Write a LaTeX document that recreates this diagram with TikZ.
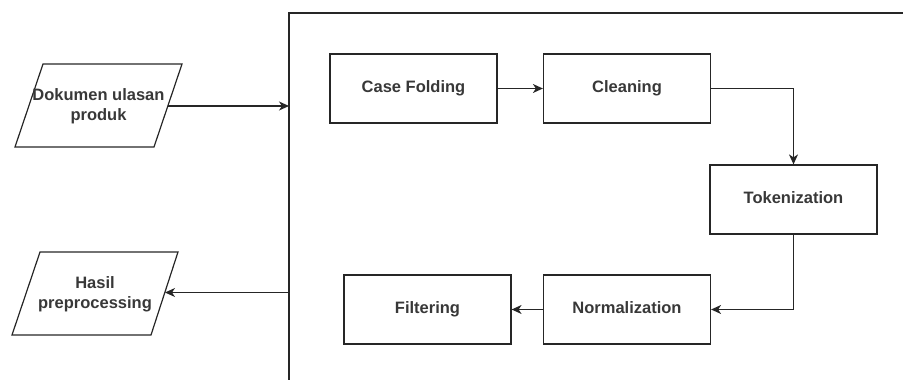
\documentclass[tikz,border=0pt]{standalone}
\usepackage{fontspec}
\setmainfont{Liberation Sans}
\usetikzlibrary{arrows.meta}
\begin{document}
\begin{tikzpicture}[x=1pt,y=-1pt,
  line/.style={draw=black!85,line width=1.2pt},
  arr/.style={line,-{Stealth[length=10pt,width=9pt,inset=3pt]}},
  stepbox/.style={draw=black!85,line width=1.2pt,minimum width=167pt,minimum height=69pt,inner sep=0pt,
    text height=12pt,text depth=3.5pt,
    font=\fontsize{16.5}{20}\selectfont\bfseries,text=black!78},
  iotext/.style={align=center,inner sep=0pt,font=\fontsize{16.5}{20}\selectfont\bfseries,text=black!78}]
\useasboundingbox (0,0) rectangle (903,380);
% frame
\draw[line] (289,380) -- (289,13) -- (903,13);
\coordinate (fin) at (289,106);
\coordinate (fout) at (289,292.5);
% input parallelogram
\draw[line] (43,64) -- (182,64) -- (154,147) -- (15,147) -- cycle;
\node[iotext] (doc) at (98.5,106) {Dokumen ulasan\\produk};
\coordinate (docr) at (168,106);
% output parallelogram
\draw[line] (40,252) -- (178,252) -- (151,335) -- (12,335) -- cycle;
\node[iotext] (hasil) at (95,294) {Hasil\\preprocessing};
\coordinate (hasilr) at (165,292.5);
% steps
\node[stepbox] (cf) at (413.5,88.5) {Case Folding};
\node[stepbox] (cl) at (627,88.5) {Cleaning};
\node[stepbox] (tk) at (793.5,199.5) {Tokenization};
\node[stepbox] (nm) at (627,309.5) {Normalization};
\node[stepbox] (fl) at (427.5,309.5) {Filtering};
% connectors
\draw[arr] (docr) -- (fin);
\draw[arr] (fout) -- (hasilr);
\draw[arr] (cf) -- (cl);
\draw[arr] (cl.east) -| (tk.north);
\draw[arr] (tk.south) |- (nm.east);
\draw[arr] (nm) -- (fl);
\end{tikzpicture}
\end{document}
